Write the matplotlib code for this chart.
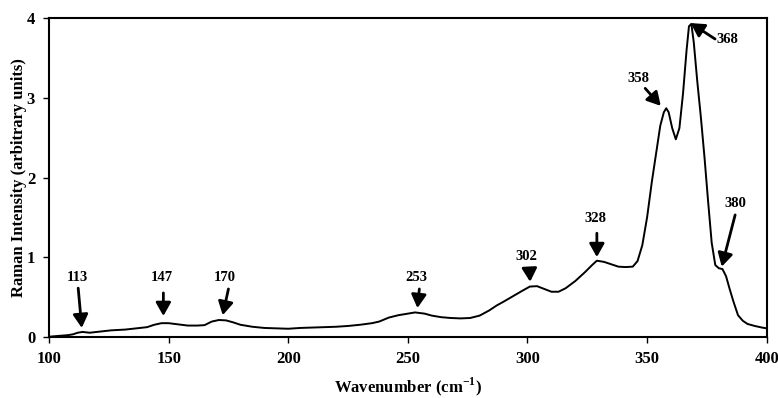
import matplotlib
matplotlib.use("Agg")
import matplotlib.pyplot as plt

plt.rcParams["font.family"] = "Liberation Serif"
plt.rcParams["font.weight"] = "bold"
plt.rcParams["mathtext.fontset"] = "custom"
plt.rcParams["mathtext.rm"] = "Liberation Serif:bold"
plt.rcParams["mathtext.bf"] = "Liberation Serif:bold"

# spectrum
wavenumber = [100, 104, 108, 110, 112, 114, 117, 120, 126, 132, 138, 141, 144, 147,
              150, 154, 158, 162, 165, 168, 171, 174, 177, 180, 185, 190, 195, 200,
              205, 210, 215, 220, 225, 230, 235, 238, 242, 246, 250, 253, 257, 260,
              264, 268, 272, 276, 280, 284, 287, 290, 294, 298, 301, 304, 307, 310,
              313, 316, 320, 324, 327, 329, 332, 335, 338, 341, 344, 346, 348, 350,
              352, 354, 355.5, 357, 358, 359, 360.5, 362, 363.5, 365, 366.5, 367.5,
              368.5, 369.5, 371, 372.5, 374, 375.5, 377, 378.5, 380, 381.5, 383,
              384.5, 386, 388, 390, 392, 395, 398, 400]
intensity = [0.00, 0.01, 0.02, 0.03, 0.05, 0.06, 0.05, 0.06, 0.08, 0.09, 0.11, 0.12,
             0.15, 0.17, 0.17, 0.155, 0.14, 0.14, 0.145, 0.19, 0.21, 0.205, 0.18, 0.15,
             0.125, 0.11, 0.105, 0.10, 0.11, 0.115, 0.12, 0.125, 0.135, 0.15, 0.17,
             0.19, 0.24, 0.27, 0.29, 0.305, 0.29, 0.265, 0.245, 0.235, 0.23, 0.235,
             0.265, 0.33, 0.39, 0.44, 0.51, 0.58, 0.63, 0.635, 0.60, 0.565, 0.565,
             0.61, 0.70, 0.81, 0.90, 0.955, 0.94, 0.91, 0.88, 0.875, 0.88, 0.95, 1.15,
             1.50, 1.95, 2.35, 2.65, 2.82, 2.87, 2.82, 2.62, 2.48, 2.62, 3.05, 3.6,
             3.90, 3.93, 3.70, 3.20, 2.75, 2.25, 1.70, 1.18, 0.90, 0.86, 0.85, 0.76,
             0.60, 0.45, 0.27, 0.20, 0.16, 0.135, 0.115, 0.105]

# peak labels: text, arrow tip, arrow tail, label position
peak_labels = ["113", "147", "170", "253", "302", "328", "358", "368", "380"]
tips  = [(113.7, 0.11), (147.8, 0.26), (172.6, 0.27), (254.0, 0.36), (301.1, 0.69),
         (329.0, 1.00), (355.7, 2.90), (368.2, 3.94), (381.2, 0.88)]
tails = [(112.2, 0.61), (147.8, 0.55), (175.0, 0.60), (254.8, 0.60), (300.8, 0.86),
         (329.0, 1.30), (349.2, 3.12), (378.4, 3.74), (386.8, 1.53)]
label_pos = [(111.9, 0.74), (147.3, 0.74), (173.6, 0.74), (253.4, 0.74), (299.7, 1.01),
             (328.3, 1.49), (346.4, 3.25), (379.0, 3.74), (386.8, 1.67)]

fig = plt.figure(figsize=(7.78, 3.98), dpi=100)
ax = fig.add_axes([0.063, 0.154, 0.9225, 0.8])

ax.plot(wavenumber, intensity, color="black", lw=1.4)

for lab, tip, tail, pos in zip(peak_labels, tips, tails, label_pos):
    ax.annotate("", xy=tip, xytext=tail,
                arrowprops=dict(arrowstyle="-|>,head_length=0.8,head_width=0.45",
                                color="black", lw=2, mutation_scale=10,
                                shrinkA=0, shrinkB=0))
    ha = "left" if lab == "368" else "center"
    ax.text(pos[0], pos[1], lab, fontsize=10.5, fontweight="bold",
            ha=ha, va="center")

ax.set_xlim(100, 400)
ax.set_ylim(0, 4)
ax.set_xticks([100, 150, 200, 250, 300, 350, 400])
ax.set_yticks([0, 1, 2, 3, 4])
ax.tick_params(direction="out", length=4, width=1, labelsize=12, pad=6)
for lbl in ax.get_xticklabels() + ax.get_yticklabels():
    lbl.set_fontweight("bold")
for sp in ax.spines.values():
    sp.set_linewidth(1.5)

ax.set_xlabel(r"Wavenumber (cm$^{\mathbf{-1}}$)", fontsize=12, fontweight="bold",
              va="top")
ax.xaxis.set_label_coords(0.5, -0.122)
ax.set_ylabel("Raman Intensity (arbitrary units)", fontsize=12, fontweight="bold")
ax.yaxis.set_label_coords(-0.03, 0.5)

fig.savefig("out.png", dpi=100)
